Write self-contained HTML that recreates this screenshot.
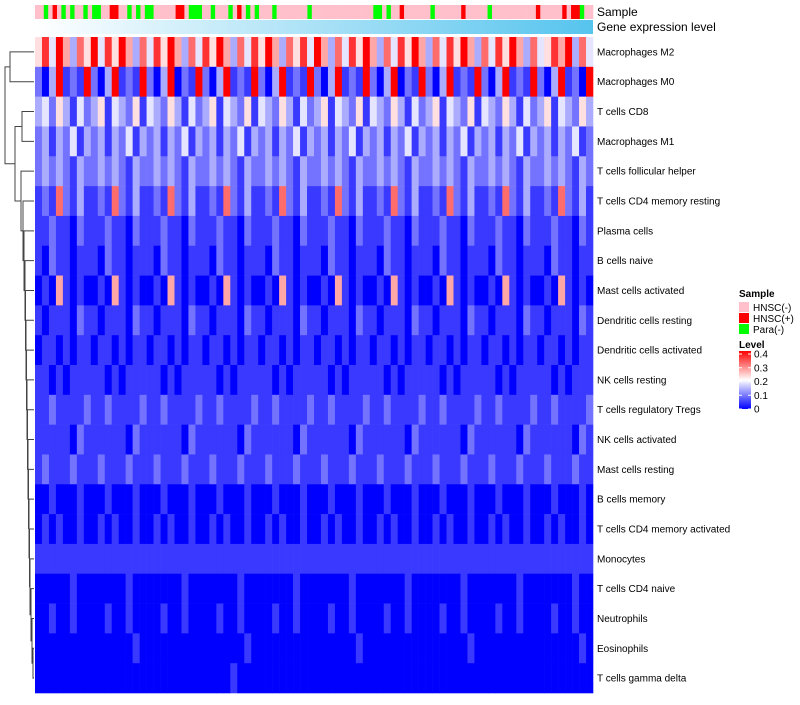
<!DOCTYPE html>
<html><head><meta charset="utf-8"><style>
body{margin:0;background:#fff;font-family:"Liberation Sans",sans-serif}
svg text{font-family:"Liberation Sans",sans-serif}
</style></head><body>
<svg id="c" width="800" height="700">
<defs>
<linearGradient id="ge" x1="0" x2="1" y1="0" y2="0"><stop offset="0" stop-color="#ffffff"/><stop offset="1" stop-color="#56c4ee"/></linearGradient>
<linearGradient id="lv" x1="0" x2="0" y1="1" y2="0"><stop offset="0" stop-color="#0000ff"/><stop offset="0.5" stop-color="#ffffff"/><stop offset="1" stop-color="#ff0000"/></linearGradient>
</defs>
</svg>
<script>
const rowNames=["Macrophages M2","Macrophages M0","T cells CD8","Macrophages M1","T cells follicular helper","T cells CD4 memory resting","Plasma cells","B cells naive","Mast cells activated","Dendritic cells resting","Dendritic cells activated","NK cells resting","T cells regulatory  Tregs","NK cells activated","Mast cells resting","B cells memory","T cells CD4 memory activated","Monocytes","T cells CD4 naive","Neutrophils","Eosinophils","T cells gamma delta"];
// digit d -> value d*0.045 (0..0.4)
const rowValues=[
"58496375948596374859637485963748596375849637485963748596374859637485963745869374",
"20391219203912192039021920391219203912192039121920390219203912192039121920391209",
"34253142351432514325314235143251432531423514325143253142351432514325314235143253",
"23132413231324132313241323132413231324132313241323132413231324132313241323132412",
"23232132232321322323213223232132232321322323213223232132232321322323213223232132",
"12172131121721311217213112172131121721311217213112172131121721311217213112172131",
"11211021112110211121102111211021112110211121102111211021112110211121102111211021",
"10211011102110111021101110211011102110111021101110211011102110111021101110211011",
"01061010010610100106101001061010010610100106101001061010010610100106101001061010",
"10111021101110211011102110111021101110211011102110111021101110211011102110111021",
"01101011011010110110101101101011011010110110101101101011011010110110101101101011",
"11010111110101111101011111010111110101111101011111010111110101111101011111010111",
"11211112112111121121111211211112112111121121111211211112112111121121111211211112",
"11111021111110211111102111111021111110211111102111111021111110211111102111111021",
"12111211121112111211121112111211121112111211121112111211121112111211121112111211",
"00100010001000100010001000100010001000100010001000100010001000100010001000100010",
"01010010010100100101001001010010010100100101001001010010010100100101001001010010",
"11111111111111111111111111111111111111111111111111111111111111111111111111111111",
"00000100000001000000010000000100000001000000010000000100000001000000010000000100",
"00100100001001000010010000100100001001000010010000100100001001000010010000100100",
"00000000000000100000000000000010000000000000001000000000000000100000000000000010",
"00000000000000000000000000001000000000000000000000000000000000000000000000000000"];
const sampleGroups="ppgprpgpgppgpggpprrppgpgpggppppprrpgggppgpppgprpgpgpppgpppppppgppppppppppppppggpgpprppppppgpppppprpppppgpppppppppprppppprprrgpp";
const legendLabels=["HNSC(-)","HNSC(+)","Para(-)"];
const levelTicks=[0,0.1,0.2,0.3,0.4];

const svg=document.getElementById('c');const NS="http://www.w3.org/2000/svg";
function mk(t,a,p){const e=document.createElementNS(NS,t);for(const k in a)e.setAttribute(k,a[k]);(p||svg).appendChild(e);return e;}
const X0=35,X1=593,Y0=37,RH=(693-37)/rowNames.length;
function color(v){let t=Math.max(0,Math.min(1,v/0.4));
 if(t<0.5){const s=t/0.5;const c=Math.round(255*s);return `rgb(${c},${c},255)`;}
 const s=(t-0.5)/0.5;const c=Math.round(255*(1-s));return `rgb(255,${c},${c})`;}
const xCol=(j,n)=>X0+(X1-X0)*j/n;
const yRow=i=>Y0+RH*i;
// annotation
const sc={p:"#ffc0cb",r:"#ff0000",g:"#00ff00"};
const ns=sampleGroups.length;
for(let j=0;j<ns;j++){const r=mk('rect',{x:xCol(j,ns),y:5,width:(X1-X0)/ns+0.3,height:14,fill:sc[sampleGroups[j]]});

}
const ge=mk('rect',{x:X0,y:20,width:X1-X0,height:14,fill:'url(#ge)'});


let t=mk('text',{x:597,y:16,'font-size':12});t.textContent="Sample";


t=mk('text',{x:597,y:31,'font-size':12});t.textContent="Gene expression level";


// heatmap
rowNames.forEach((nm,i)=>{const s=rowValues[i];const n=s.length;
 for(let j=0;j<n;j++){const r=mk('rect',{x:xCol(j,n),y:yRow(i),width:(X1-X0)/n+0.3,height:RH+0.3,fill:color(+s[j]*0.045)});
 
 }
 const l=mk('text',{x:597,y:yRow(i)+RH/2+3.5,'font-size':10});l.textContent=nm;
 
 });
// dendrogram (approximate ladder)
const g=mk('g',{stroke:'#444','stroke-width':1,fill:'none'});


const cy=i=>yRow(i)+RH/2;
function link(x,ya,xa,yb,xb){mk('path',{d:`M${xa},${ya}H${x}V${yb}H${xb}`},g);}
link(10,cy(0),34,cy(1),34); // M2-M0
link(22,cy(2),34,cy(3),34); // CD8-M1
let curY=cy(21),curX=34;
const mergeX=[33,32,31,30,29.5,29,28.5,28,27.5,27,26.5,26,25.5,25,24,23,21,19,18];
for(let i=20,k=0;i>=4;i--,k++){const x=mergeX[k];link(x,cy(i),34,curY,curX);curY=(cy(i)+curY)/2;curX=x;}
link(15,cy(2.5),22,curY,curX);let y2=(cy(2.5)+curY)/2;
link(5,cy(0.5),10,y2,15);
// legend
t=mk('text',{x:739,y:297,'font-size':10,'font-weight':'bold'});t.textContent="Sample";

legendLabels.forEach((lb,i)=>{const r=mk('rect',{x:739,y:302+i*11,width:10,height:10,fill:[sc.p,sc.r,sc.g][i]});
 
 const tx=mk('text',{x:753,y:311+i*11,'font-size':10});tx.textContent=lb;
 });
t=mk('text',{x:739,y:348,'font-size':10,'font-weight':'bold'});t.textContent="Level";

const cb=mk('rect',{x:739,y:351,width:12,height:58,fill:'url(#lv)'});

levelTicks.forEach(v=>{const y=409-v/0.4*55;
 mk('line',{x1:739,x2:742,y1:y,y2:y,stroke:'#fff'});mk('line',{x1:748,x2:751,y1:y,y2:y,stroke:'#fff'});
 const tx=mk('text',{x:754,y:y+3.5,'font-size':10});tx.textContent=String(v);
 });
</script>
</body></html>
